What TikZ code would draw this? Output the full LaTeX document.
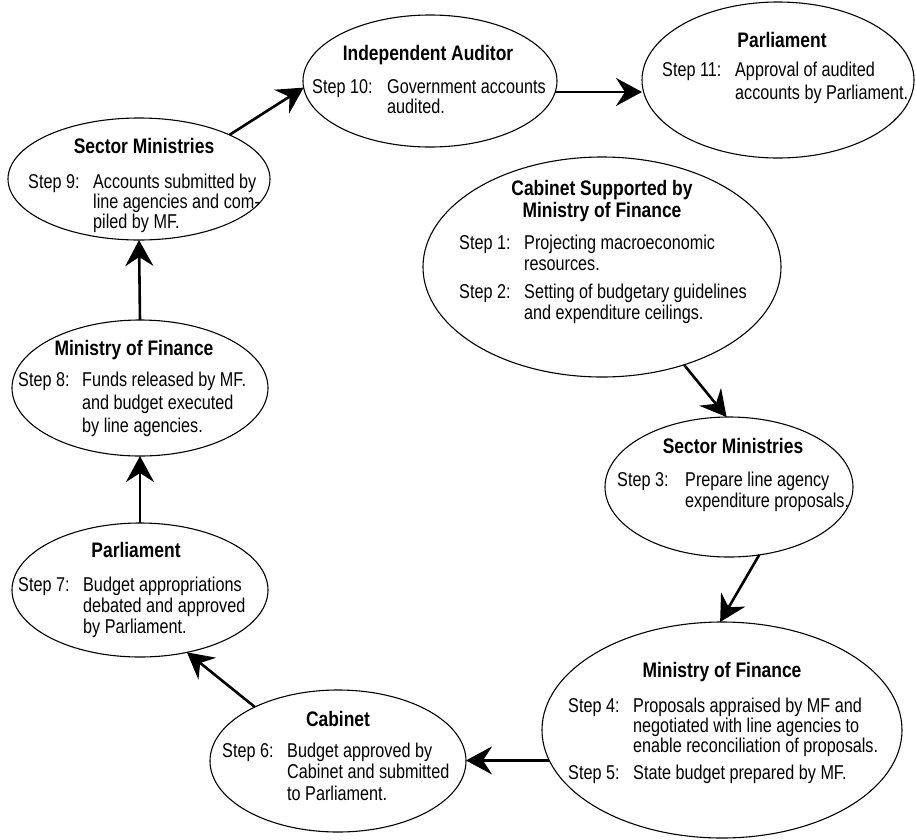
\documentclass[tikz,border=0pt]{standalone}
\usepackage{fontspec}
\setmainfont{Liberation Sans}[FakeStretch=0.81]
\newfontfamily\ttlfont{Liberation Sans}[FakeStretch=0.83]
\usetikzlibrary{shapes.geometric,arrows.meta}
\newcommand{\blk}[3]{\fontsize{20}{#2}\selectfont\begin{tabular}[t]{@{}p{#1pt}@{}l@{}}#3\end{tabular}}
\begin{document}
\begin{tikzpicture}[x=1pt,y=-1pt,
  ell/.style={ellipse, draw, line width=1.1pt, inner sep=0pt, outer sep=0pt},
  ttl/.style={font=\ttlfont\bfseries\fontsize{21}{22}\selectfont, inner sep=0pt, anchor=base},
  bdy/.style={inner sep=0pt, anchor=base west},
  arr/.style={line width=2.6pt, -{Stealth[length=26pt,width=28pt,inset=9pt]}}]
\useasboundingbox[fill=white] (0,0) rectangle (916,839);
% ellipses
\node[ell, minimum width=262pt, minimum height=122pt] (e9) at (139,179) {};
\node[ell, minimum width=254pt, minimum height=132pt] (e10) at (430,81) {};
\node[ell, minimum width=272pt, minimum height=156pt] (e11) at (778,80) {};
\node[ell, minimum width=358pt, minimum height=220pt] (e1) at (602,267) {};
\node[ell, minimum width=248pt, minimum height=140pt] (e3) at (729,487) {};
\node[ell, minimum width=360pt, minimum height=216pt] (e4) at (722,730) {};
\node[ell, minimum width=256pt, minimum height=142pt] (e6) at (338,761) {};
\node[ell, minimum width=256pt, minimum height=134pt] (e7) at (140,590) {};
\node[ell, minimum width=256pt, minimum height=136pt] (e8) at (140,388) {};
% titles
\node[ttl] (h9) at (144,153) {Sector Ministries};
\node[ttl] (h10) at (428,60) {Independent Auditor};
\node[ttl] (h11) at (782,47) {Parliament};
\node[ttl] (h1) at (602,195) {\begin{tabular}[t]{@{}c@{}}Cabinet Supported by\\Ministry of Finance\end{tabular}};
\node[ttl] (h3) at (733,453) {Sector Ministries};
\node[ttl] (h4) at (722,677) {Ministry of Finance};
\node[ttl] (h6) at (338,726) {Cabinet};
\node[ttl] (h7) at (136,557) {Parliament};
\node[ttl] (h8) at (134,355) {Ministry of Finance};
% bodies
\node[bdy] (b9) at (28,188) {\blk{65}{20}{Step 9: & Accounts submitted by\\ & line agencies and com-\\ & piled by MF.}};
\node[bdy] (b10) at (312,93) {\blk{75}{20}{Step 10: & Government accounts\\ & audited.}};
\node[bdy] (b11) at (662,76) {\blk{73}{23}{Step 11: & Approval of audited\\ & accounts by Parliament.}};
\node[bdy] (b1) at (459,249) {\blk{65}{21}{Step 1: & Projecting macroeconomic\\ & resources.\\[7pt] Step 2: & Setting of budgetary guidelines\\ & and expenditure ceilings.}};
\node[bdy] (b3) at (617,486) {\blk{68}{21}{Step 3: & Prepare line agency\\ & expenditure proposals.}};
\node[bdy] (b4) at (568,712) {\blk{65}{20}{Step 4: & Proposals appraised by MF and\\ & negotiated with line agencies to\\ & enable reconciliation of proposals.\\[6pt] Step 5: & State budget prepared by MF.}};
\node[bdy] (b6) at (222,757) {\blk{65}{21.5}{Step 6: & Budget approved by\\ & Cabinet and submitted\\ & to Parliament.}};
\node[bdy] (b7) at (18,591) {\blk{65}{21}{Step 7: & Budget appropriations\\ & debated and approved\\ & by Parliament.}};
\node[bdy] (b8) at (18,386) {\blk{64}{23}{Step 8: & Funds released by MF.\\ & and budget executed\\ & by line agencies.}};
% arrows
\draw[arr] (e9.26) -- (e10.183);
\draw[arr] (e10.355) -- (e10.355 -| e11.west);
\draw[arr] (e1.310) -- (e3.92);
\draw[arr] (e3.294) -- (e4.91);
\draw[arr] (e4.190) -- (e4.190 -| e6.east);
\draw[arr] (e6.147) -- (e7.307);
\draw[arr] (e7.north) -- (e8.south);
\draw[arr] (e8.north) -- (e9.south);
\end{tikzpicture}
\end{document}
